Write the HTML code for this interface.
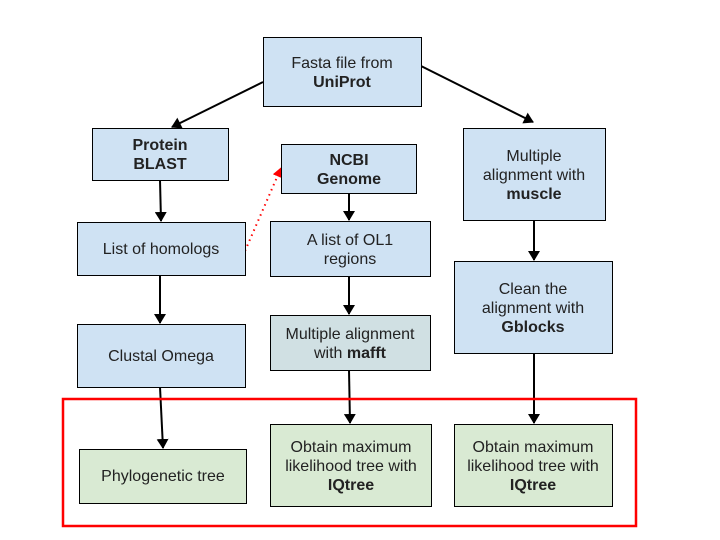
<!DOCTYPE html>
<html><head><style>body{margin:0;background:#fff}svg{display:block}text{font-family:"Liberation Sans",Arial,sans-serif;font-size:16px;fill:#222}</style></head><body>
<svg width="720" height="540" viewBox="0 0 720 540" xmlns="http://www.w3.org/2000/svg">
<defs><marker id="a" markerWidth="10" markerHeight="12" refX="9" refY="6" orient="auto" markerUnits="userSpaceOnUse"><path d="M0,0 L10,6 L0,12 z" fill="#000"/></marker>
<marker id="r" markerWidth="10" markerHeight="10" refX="9" refY="5" orient="auto" markerUnits="userSpaceOnUse"><path d="M0,0 L10,5 L0,10 z" fill="#f00"/></marker></defs>
<g stroke="#000" stroke-width="2" marker-end="url(#a)" fill="none">
<line x1="263" y1="82" x2="172" y2="127"/>
<line x1="421" y1="66" x2="533" y2="122"/>
<line x1="160" y1="180" x2="161" y2="221"/>
<line x1="160" y1="275" x2="160" y2="323"/>
<line x1="160" y1="387" x2="163" y2="448"/>
<line x1="349" y1="194" x2="349" y2="220"/>
<line x1="349" y1="276" x2="349" y2="314"/>
<line x1="349" y1="370" x2="350" y2="423"/>
<line x1="534" y1="220" x2="534" y2="260"/>
<line x1="534" y1="353" x2="534" y2="423"/>
</g>
<line x1="245" y1="251" x2="281" y2="168" stroke="#f00" stroke-width="2" stroke-dasharray="1.5,4" marker-end="url(#r)"/>
<g stroke="#000" stroke-width="1">
<rect x="263.5" y="37.5" width="158" height="69" fill="#cfe2f3"/>
<rect x="92.5" y="128.5" width="136" height="52" fill="#cfe2f3"/>
<rect x="281.5" y="144.5" width="135" height="49" fill="#cfe2f3"/>
<rect x="463.5" y="128.5" width="142" height="92" fill="#cfe2f3"/>
<rect x="77.5" y="222.5" width="168" height="53" fill="#cfe2f3"/>
<rect x="270.5" y="221.5" width="160" height="55" fill="#cfe2f3"/>
<rect x="454.5" y="261.5" width="158" height="92" fill="#cfe2f3"/>
<rect x="77.5" y="324.5" width="168" height="63" fill="#cfe2f3"/>
<rect x="270.5" y="315.5" width="160" height="55" fill="#d0e0e3"/>
<rect x="79.5" y="449.5" width="167" height="54" fill="#d9ead3"/>
<rect x="270.5" y="424.5" width="161" height="82" fill="#d9ead3"/>
<rect x="454.5" y="424.5" width="158" height="82" fill="#d9ead3"/>
</g>
<rect x="63" y="399" width="573" height="127" fill="none" stroke="#f00" stroke-width="2.5"/>
<g text-anchor="middle">
<text x="342" y="68">Fasta file from</text><text x="342" y="87" font-weight="bold">UniProt</text>
<text x="160" y="150" font-weight="bold">Protein</text><text x="160" y="169" font-weight="bold">BLAST</text>
<text x="349" y="165" font-weight="bold">NCBI</text><text x="349" y="184" font-weight="bold">Genome</text>
<text x="534" y="161">Multiple</text><text x="534" y="180">alignment with</text><text x="534" y="199" font-weight="bold">muscle</text>
<text x="161" y="254">List of homologs</text>
<text x="350" y="245">A list of OL1</text><text x="350" y="264">regions</text>
<text x="533" y="294">Clean the</text><text x="533" y="313">alignment with</text><text x="533" y="332" font-weight="bold">Gblocks</text>
<text x="161" y="361">Clustal Omega</text>
<text x="350" y="339">Multiple alignment</text><text x="350" y="358">with <tspan font-weight="bold">mafft</tspan></text>
<text x="163" y="481">Phylogenetic tree</text>
<text x="351" y="452">Obtain maximum</text><text x="351" y="471">likelihood tree with</text><text x="351" y="490" font-weight="bold">IQtree</text>
<text x="533" y="452">Obtain maximum</text><text x="533" y="471">likelihood tree with</text><text x="533" y="490" font-weight="bold">IQtree</text>
</g>
</svg>
</body></html>
